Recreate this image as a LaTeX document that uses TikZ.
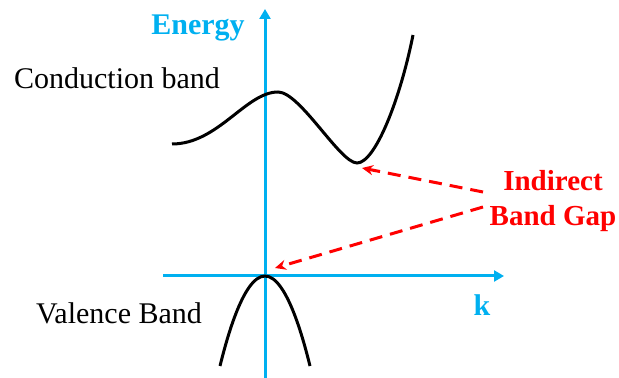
\documentclass[tikz,border=0pt]{standalone}
\usepackage{fontspec}
\setmainfont{Liberation Serif}
\usetikzlibrary{arrows.meta}
\definecolor{axisblue}{HTML}{00B0F0}
\definecolor{gapred}{HTML}{FF0000}

\begin{document}
\begin{tikzpicture}[x=0.5pt,y=-0.5pt,
  axis/.style={line width=1.5pt,axisblue,-{Triangle[length=5pt,width=5.5pt]}},
  band/.style={line width=1.5pt,black},
  gaparrow/.style={line width=1.5pt,gapred,dash pattern=on 6.5pt off 4pt,-{Stealth[length=5.5pt,width=5pt]}},
  lbl/.style={font=\fontsize{15}{18}\selectfont}]
\useasboundingbox (0,0) rectangle (619,378);
% axes
\coordinate (origin) at (265,276);
\coordinate (ybot) at (265,378);
\coordinate (ytop) at (265,9);
\coordinate (xleft) at (163,276);
\coordinate (xright) at (504,276);
\draw[axis] (ybot) -- (ytop);
\draw[axis] (xleft) -- (xright);
\node[lbl,font=\fontsize{15}{18}\selectfont\bfseries,text=axisblue] (energy) at (198,28) {Energy};
\node[lbl,font=\fontsize{15}{18}\selectfont\bfseries,text=axisblue] (klabel) at (482,305) {k};
% bands
\coordinate (cbmin) at (357,163);
\draw[band] (172,144) .. controls (218,144) and (246,92) .. (278,92)
  .. controls (300,92) and (340,163) .. (cbmin)
  .. controls (375,163) and (400,100) .. (413,35);
\draw[band] (220,366) parabola bend (origin) (310,366);
\node[lbl] (cband) at (117,78) {Conduction band};
\node[lbl] (vband) at (119,313) {Valence Band};
% gap
\node[lbl,font=\fontsize{14.5}{17.5}\selectfont\bfseries,text=gapred,align=center] (gap) at (553,201) {Indirect\\Band Gap};
\coordinate (gapA) at (483,192);
\coordinate (gapB) at (483,207);
\draw[gaparrow] (gapA) -- ([shift={(5,5)}]cbmin);
\draw[gaparrow] (gapB) -- ([shift={(10,-8)}]origin);
\end{tikzpicture}
\end{document}
